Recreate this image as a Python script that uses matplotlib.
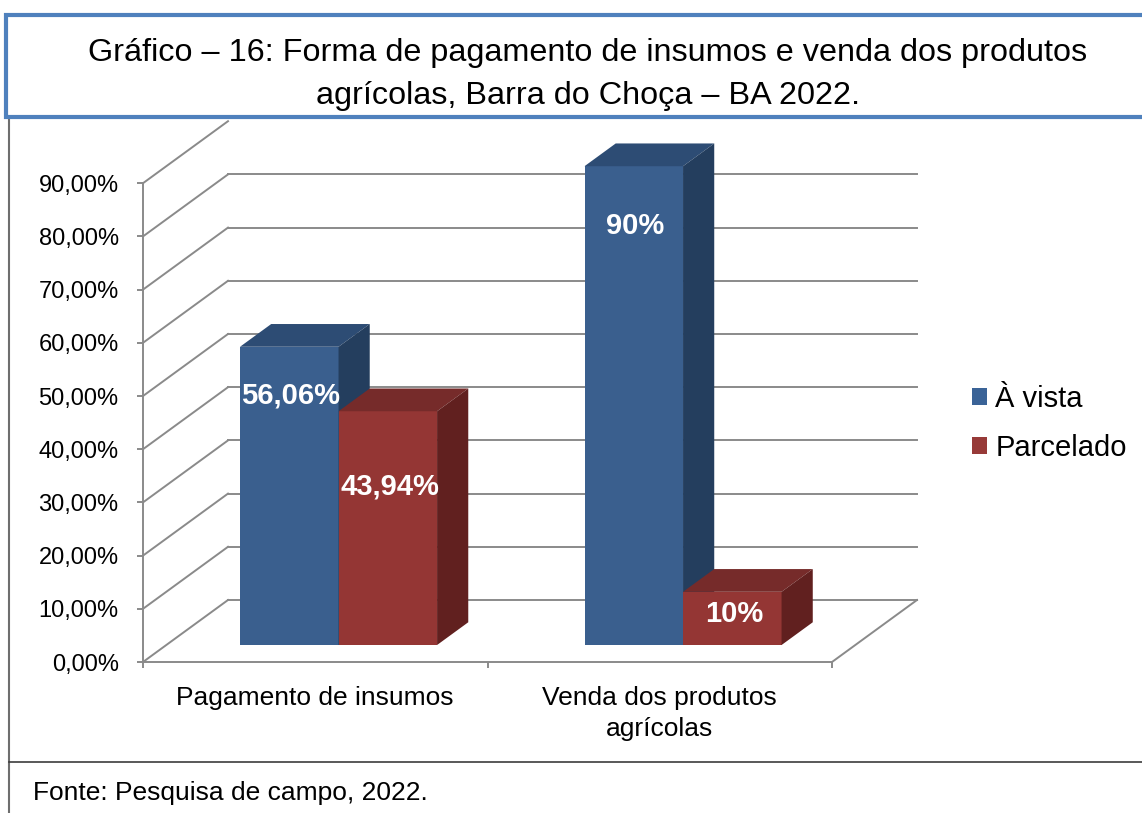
import matplotlib.pyplot as plt
from matplotlib.patches import Polygon, Rectangle, Patch
from matplotlib.lines import Line2D

plt.rcParams['font.family'] = ['Liberation Sans', 'DejaVu Sans']

# dados do grafico
categorias = ['Pagamento de insumos', 'Venda dos produtos\nagrícolas']
aVista = [56.06, 90]
parcelado = [43.94, 10]
rotulosVista = ['56,06%', '90%']
rotulosParcelado = ['43,94%', '10%']
series = ['À vista', 'Parcelado']
yTicks = [0, 10, 20, 30, 40, 50, 60, 70, 80, 90]
yTickLabels = ['0,00%', '10,00%', '20,00%', '30,00%', '40,00%', '50,00%',
               '60,00%', '70,00%', '80,00%', '90,00%']

W, H = 1142, 813

# cores (frente, topo, lado)
azul = ['#3A5F8E', '#2D4C74', '#243E5E']
vermelho = ['#943634', '#762B2A', '#61201F']
cinza = '#8A8A8A'

fig = plt.figure(figsize=(W / 100, H / 100), dpi=100)
ax = fig.add_axes([143 / W, (H - 662) / H, (832 - 143) / W, 532 / H])
ax.set_xlim(0, 2)
ax.set_ylim(0, 100)

# profundidade do efeito 3D em unidades de dados
DX = 85 / 344.5
DY = 62 / 5.32
F0 = 0.274   # frente da barra
FD = 0.367   # espessura da barra
barWidth = 0.286


def bar3d(xLeft, value, cores, z):
    xl = xLeft + F0 * DX
    bottom = F0 * DY
    top = bottom + value
    ax.bar(xl, value, barWidth, bottom=bottom, align='edge', color=cores[0],
           zorder=z, clip_on=False, linewidth=0)
    topo = [(xl, top), (xl + barWidth, top),
            (xl + barWidth + FD * DX, top + FD * DY), (xl + FD * DX, top + FD * DY)]
    lado = [(xl + barWidth, bottom), (xl + barWidth, top),
            (xl + barWidth + FD * DX, top + FD * DY), (xl + barWidth + FD * DX, bottom + FD * DY)]
    ax.add_patch(Polygon(topo, closed=True, facecolor=cores[1], edgecolor='none', zorder=z, clip_on=False))
    ax.add_patch(Polygon(lado, closed=True, facecolor=cores[2], edgecolor='none', zorder=z, clip_on=False))
    return xl


# paredes e grade (a linha de fundo dos 90% fica escondida pelo titulo)
for v in yTicks:
    if v < 90:
        ax.plot([DX, 2 + DX], [v + DY, v + DY], color=cinza, lw=1.4, zorder=1, clip_on=False)
    ax.plot([0, DX], [v, v + DY], color=cinza, lw=1.4, zorder=1, clip_on=False)
ax.plot([2, 2 + DX], [0, DY], color=cinza, lw=1.4, zorder=1, clip_on=False)

# posicao vertical dos rotulos (fracao da altura da barra)
posVista = [0.835, 0.875]
posParcelado = [0.676, 0.58]

for i in range(len(categorias)):
    centro = i + 0.5
    xb = bar3d(centro - barWidth, aVista[i], azul, 2 + i * 2)
    ax.text(xb + barWidth / 2 + 0.005, F0 * DY + aVista[i] * posVista[i], rotulosVista[i],
            color='white', fontsize=21, fontweight='bold', ha='center', va='center', zorder=10)
    xr = bar3d(centro, parcelado[i], vermelho, 3 + i * 2)
    ax.text(xr + barWidth / 2 + 0.005, F0 * DY + parcelado[i] * posParcelado[i], rotulosParcelado[i],
            color='white', fontsize=21, fontweight='bold', ha='center', va='center', zorder=10)

# eixos
for s in ['top', 'right']:
    ax.spines[s].set_visible(False)
ax.spines['left'].set_bounds(0, 90)
ax.spines['left'].set_color(cinza)
ax.spines['left'].set_linewidth(1.4)
ax.spines['bottom'].set_color(cinza)
ax.spines['bottom'].set_linewidth(1.4)
ax.set_yticks(yTicks, yTickLabels)
ax.tick_params(axis='y', length=4.5, width=1.4, color=cinza, pad=13, labelsize=17)
ax.set_xticks([0, 1, 2], ['', '', ''])
ax.tick_params(axis='x', which='major', length=4.5, width=1.4, color=cinza)
ax.set_xticks([0.5, 1.5], categorias, minor=True)
ax.tick_params(axis='x', which='minor', length=0, pad=17.5, labelsize=19)
for lbl in ax.get_xticklabels(minor=True):
    lbl.set_linespacing(1.35)
ax.patch.set_visible(False)

# legenda
handles = [Patch(facecolor='#3A6397', edgecolor='none'), Patch(facecolor='#973A38', edgecolor='none')]
fig.legend(handles, series, loc='upper left', bbox_to_anchor=(972 / W, 1 - 385 / H),
           frameon=False, fontsize=21, handlelength=0.5, handleheight=0.5,
           handletextpad=0.3, labelspacing=0.72, borderpad=0, borderaxespad=0)

# moldura, titulo e fonte
fig.add_artist(Line2D([9 / W, 9 / W], [0, 1 - 118 / H], color='#6E6E6E', lw=1.5))
fig.add_artist(Line2D([9 / W, 1], [1 - 762 / H, 1 - 762 / H], color='#3C3C3C', lw=1.2))
fig.add_artist(Rectangle((5.5 / W, 1 - 117 / H), 1.1, (117 - 15) / H, transform=fig.transFigure,
                         facecolor='white', edgecolor='#4F81BD', lw=3, zorder=5))
fig.text(588 / W, 1 - 53.5 / H, 'Gráfico – 16: Forma de pagamento de insumos e venda dos produtos',
         ha='center', va='center', fontsize=23.3, zorder=6)
fig.text(588 / W, 1 - 96 / H, 'agrícolas, Barra do Choça – BA 2022.',
         ha='center', va='center', fontsize=23.3, zorder=6)
fig.text(33 / W, 1 - 793 / H, 'Fonte: Pesquisa de campo, 2022.', ha='left', va='center', fontsize=19)

fig.savefig('out.png', dpi=100)
